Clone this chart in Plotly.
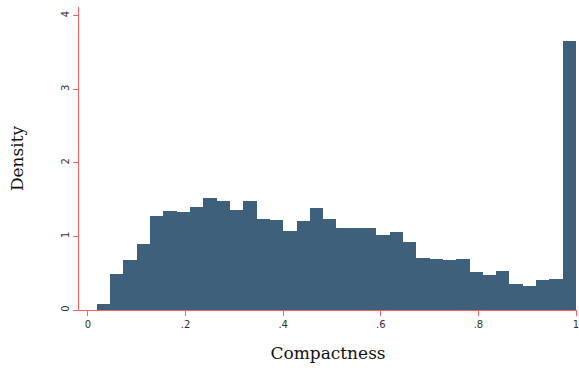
import numpy as np
import plotly.graph_objects as go

# Histogram of compactness: 36 equal-width bins from the sample minimum to 1
bin_start = 0.0182
bin_end = 1.0
n_bins = 36
density = [
    0.085, 0.49, 0.68, 0.90, 1.28, 1.35, 1.335, 1.40, 1.525,
    1.485, 1.36, 1.485, 1.24, 1.225, 1.075, 1.21, 1.39, 1.24,
    1.12, 1.12, 1.12, 1.02, 1.065, 0.93, 0.71, 0.695, 0.685,
    0.695, 0.52, 0.48, 0.535, 0.355, 0.33, 0.41, 0.425, 3.66,
]
x_ticks = [0, 0.2, 0.4, 0.6, 0.8, 1.0]
x_tick_labels = ["0", ".2", ".4", ".6", ".8", "1"]
y_ticks = [0, 1, 2, 3, 4]
y_tick_labels = ["0", "1", "2", "3", "4"]

width = (bin_end - bin_start) / n_bins
edges = bin_start + width * np.arange(n_bins)
centers = edges + width / 2

BAR = "#3e607a"
RED = "#ff5f5f"
TICKFONT = dict(family="DejaVu Sans", size=10, color="#333333")
TITLEFONT = dict(family="DejaVu Serif", size=17, color="#111111")

fig = go.Figure(
    go.Bar(
        x=centers,
        y=density,
        width=width,
        marker=dict(color=BAR, line=dict(width=0)),
        hoverinfo="skip",
    )
)

fig.update_layout(
    width=579,
    height=372,
    margin=dict(l=79, r=0, t=7, b=62),
    paper_bgcolor="white",
    plot_bgcolor="white",
    showlegend=False,
    bargap=0,
)

fig.update_xaxes(
    range=[-0.01837, 1.00204],
    tickvals=x_ticks,
    ticktext=x_tick_labels,
    ticks="outside",
    ticklen=5,
    tickwidth=1,
    tickcolor=RED,
    tickfont=TICKFONT,
    ticklabeloverflow="allow",
    showline=True,
    linecolor=RED,
    linewidth=1,
    layer="below traces",
    showgrid=False,
    zeroline=False,
    title=dict(text="Compactness", font=TITLEFONT, standoff=18),
)

fig.update_yaxes(
    range=[0, 4.117],
    tickvals=y_ticks,
    ticktext=y_tick_labels,
    tickangle=-90,
    ticks="outside",
    ticklen=5,
    tickwidth=1,
    tickcolor=RED,
    tickfont=TICKFONT,
    showline=True,
    linecolor=RED,
    linewidth=1,
    layer="below traces",
    showgrid=False,
    zeroline=False,
    title=dict(text="Density", font=TITLEFONT, standoff=32),
)

fig.write_html("out.html")
